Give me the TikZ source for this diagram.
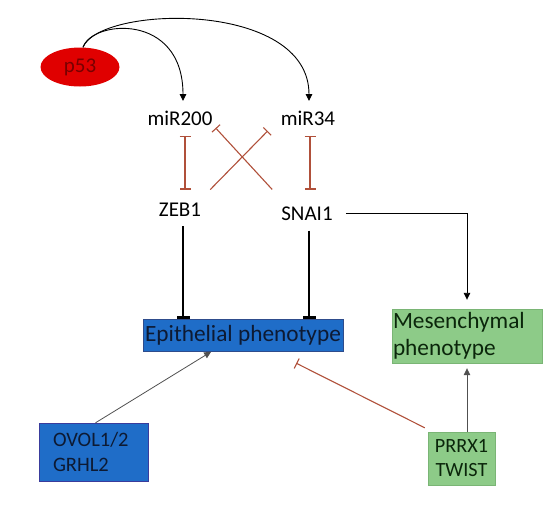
\documentclass[tikz,border=0pt]{standalone}
\usepackage{fontspec}
\setmainfont{Carlito}
\usepackage{xcolor}
\usetikzlibrary{arrows.meta,shapes.geometric}
\definecolor{inhred}{HTML}{B0503A}
\definecolor{epiblue}{HTML}{1F6DC8}
\definecolor{epiedge}{HTML}{2E4C8C}
\definecolor{ovoledge}{HTML}{3A3C9C}
\definecolor{darkblue}{HTML}{0D1A33}
\definecolor{mesgreen}{HTML}{8DCB88}
\definecolor{mesedge}{HTML}{7AB575}
\definecolor{darkgreen}{HTML}{0B260B}
\definecolor{pred}{HTML}{E00000}
\definecolor{ptext}{HTML}{780000}
\definecolor{linkgrey}{HTML}{505050}

\begin{document}
\begin{tikzpicture}[x=1pt, y=-1pt,
  gene/.style={font=\fontsize{21}{25}\selectfont, inner ysep=10pt, inner xsep=3pt},
  inhib/.style={inhred, line width=1.1pt, -{Bar[width=11pt, line width=1.1pt]}},
  mutual/.style={inhred, line width=1.1pt, {Bar[width=11pt, line width=1.1pt]}-{Bar[width=11pt, line width=1.1pt]}},
  block/.style={line width=2.6pt, -{Bar[width=13pt, line width=2.6pt]}},
  act/.style={line width=0.9pt, -{Triangle[width=6.5pt, length=7pt]}},
  grey act/.style={linkgrey, line width=0.8pt, -{Triangle[width=6.5pt, length=7pt]}}]
  \useasboundingbox (0,0) rectangle (550,507);

  % nodes
  \node[ellipse, fill=pred, minimum width=79pt, minimum height=39pt,
        inner sep=0pt, text=ptext, font=\fontsize{21}{25}\selectfont] (p53) at (80,67) {p53};
  \node[gene] (mir200) at (180,118.5) {miR200};
  \node[gene] (mir34) at (308,118.5) {miR34};
  \node[gene] (zeb1) at (180,209.5) {ZEB1};
  \node[gene] (snai1) at (307,213.5) {SNAI1};
  \node[fill=epiblue, draw=epiedge, minimum width=200pt, minimum height=32pt, inner sep=0pt,
        text=darkblue, font=\fontsize{23.3}{27}\selectfont] (epi) at (243,335) {Epithelial phenotype};
  \node[fill=mesgreen, draw=mesedge, minimum width=150pt, minimum height=54pt, inner sep=1pt,
        text width=148pt, align=left, text=darkgreen, font=\fontsize{23.3}{27}\selectfont]
        (mes) at (467,336) {Mesenchymal\\phenotype};
  \node[fill=epiblue, draw=ovoledge, minimum width=109pt, minimum height=58pt, inner xsep=14pt,
        text width=81pt, align=left, text=darkblue, font=\fontsize{20.5}{25}\selectfont]
        (ovol) at (93.5,452) {OVOL1/2\\GRHL2};
  \node[fill=mesgreen, draw=mesedge, minimum width=67pt, minimum height=53pt, inner sep=0pt,
        align=center, text=darkgreen, font=\fontsize{20.2}{24}\selectfont]
        (prrx) at (461.5,458.5) {PRRX1\\TWIST};

  % p53 activation
  \draw[act] ([xshift=3pt]p53.north) .. controls (92,20) and (183,12) .. ([xshift=3pt]mir200.north);
  \draw[act] ([xshift=3pt]p53.north) .. controls (100,5) and (309,0) .. ([xshift=1pt]mir34.north);

  % double negative loops
  \draw[mutual] ([xshift=5pt]mir200.south) -- ([xshift=5pt,yshift=3pt]zeb1.north);
  \draw[mutual] ([xshift=2pt]mir34.south) -- ([xshift=2pt,yshift=3pt]mir34.south |- zeb1.north);
  \draw[inhib] ([xshift=6pt,yshift=3pt]zeb1.north east) -- ([xshift=-10pt,yshift=5pt]mir34.south west);
  \draw[inhib] ([xshift=-6pt,yshift=7pt]snai1.north west) -- ([yshift=8pt]mir200.south east);

  % repression of the epithelial state
  \draw[block] ([xshift=3pt]zeb1.south) -- ([xshift=3pt]zeb1.south |- epi.north);
  \draw[block] ([xshift=2pt]snai1.south) -- ([xshift=2pt]snai1.south |- epi.north);
  \draw[act, shorten >=9pt] ([xshift=10pt]snai1.east) -| (mes.north);

  % lower regulators
  \draw[grey act, shorten >=1pt] ([xshift=2pt]ovol.north) -- ([xshift=-31pt]epi.south);
  \draw[grey act, shorten >=5pt] (prrx.north -| mes.south) -- (mes.south);
  \draw[inhib] ([xshift=-3pt,yshift=4pt]prrx.north west) -- ([xshift=-47pt,yshift=-12pt]epi.south east);
\end{tikzpicture}
\end{document}
